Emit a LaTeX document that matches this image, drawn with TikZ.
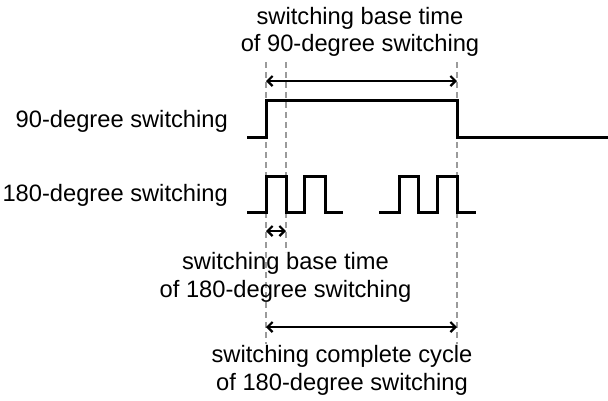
\documentclass[tikz,border=0pt]{standalone}
\usepackage{fontspec}
\setmainfont{Liberation Sans}
\usetikzlibrary{arrows.meta}
\begin{document}
\begin{tikzpicture}[x=1pt,y=-1pt,
  signal/.style={line width=3pt,line join=miter,line cap=butt},
  guide/.style={line width=2.2pt,draw={rgb,255:red,155;green,155;blue,155},dash pattern=on 6pt off 4pt},
  span/.style={line width=2.4pt,{Straight Barb[length=5pt,width=10pt,line width=2.2pt]}-{Straight Barb[length=5pt,width=10pt,line width=2.2pt]}},
  lbl/.style={font=\fontsize{23.7}{27.5}\selectfont,inner sep=0pt,align=center,anchor=base}]
\useasboundingbox (0,0) rectangle (608,400);
% guide coordinates
\coordinate (gAtop) at (266,62);
\coordinate (gAbot) at (266,344);
\coordinate (gBtop) at (286,62);
\coordinate (gBbot) at (286,252);
\coordinate (gCtop) at (457,62);
\coordinate (gCbot) at (457,344);
\draw[guide] (gAtop) -- (gAbot);
\draw[guide] (gBtop) -- (gBbot);
\draw[guide] (gCtop) -- (gCbot);
% 90-degree signal
\draw[signal] (247,137) -- (266,137) -- (266,100) -- (457,100) -- (457,137) -- (608,137);
% 180-degree signal
\draw[signal] (247,212) -- (266,212) -- (266,176) -- (286,176) -- (286,212) -- (304,212) -- (304,176) -- (325.5,176) -- (325.5,212) -- (343,212);
\draw[signal] (379,212) -- (399,212) -- (399,176) -- (418,176) -- (418,212) -- (437,212) -- (437,176) -- (457,176) -- (457,212) -- (476,212);
% spans
\coordinate (s1a) at (266,81);
\coordinate (s1b) at (457,81);
\coordinate (s2a) at (266,231);
\coordinate (s2b) at (286,231);
\coordinate (s3a) at (266,327);
\coordinate (s3b) at (457,327);
\draw[span] (s1a) -- (s1b);
\draw[span] (s2a) -- (s2b);
\draw[span] (s3a) -- (s3b);
% labels (anchor base = baseline of last line)
\node[lbl] (t90) at (360,51.5) {switching base time\\of 90-degree switching};
\node[lbl,anchor=base east,align=right] (l90) at (228,127) {90-degree switching};
\node[lbl,anchor=base east,align=right] (l180) at (228,201.5) {180-degree switching};
\node[lbl] (t180) at (285.5,297) {switching base time\\of 180-degree switching};
\node[lbl] (tcyc) at (342,390) {switching complete cycle\\of 180-degree switching};
\end{tikzpicture}
\end{document}
